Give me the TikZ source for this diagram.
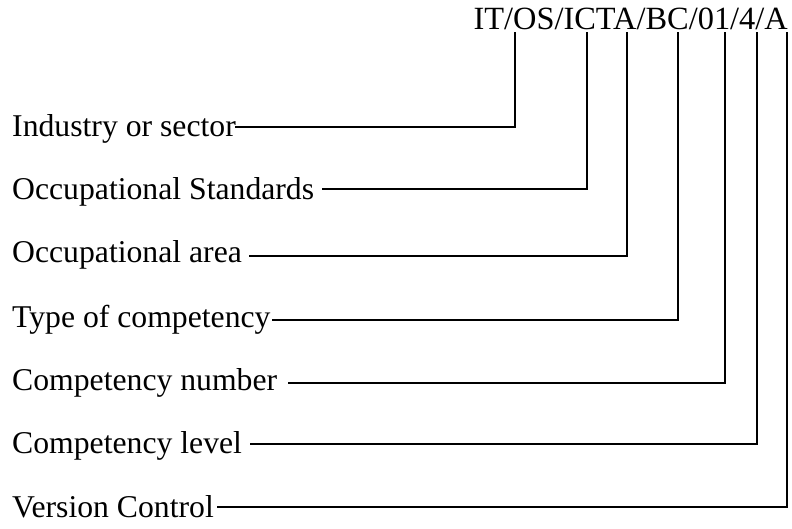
\documentclass[tikz,border=0pt]{standalone}
\usepackage{fontspec}
\setmainfont{Liberation Serif}
\begin{document}
\begin{tikzpicture}[x=1pt,y=-1pt,
  lab/.style={anchor=base west,inner sep=0pt,font=\fontsize{31.7pt}{38pt}\selectfont},
  conn/.style={draw=black,line width=1.7pt}]
\useasboundingbox (0,0) rectangle (792,529);
\node[lab,anchor=base east,font=\fontsize{32.4pt}{38pt}\selectfont] (code) at (788,30) {IT/OS/ICTA/BC/01/4/A};
\node[lab] (l1) at (12,137) {Industry or sector};
\node[lab] (l2) at (12,200) {Occupational Standards};
\node[lab] (l3) at (12,263) {Occupational area};
\node[lab] (l4) at (12,327) {Type of competency};
\node[lab] (l5) at (12,390) {Competency number};
\node[lab] (l6) at (12,453) {Competency level};
\node[lab] (l7) at (12,517) {Version Control};
\coordinate (s1) at (235,127);
\coordinate (s2) at (322,189);
\coordinate (s3) at (249,256);
\coordinate (s4) at (272,320);
\coordinate (s5) at (288,383);
\coordinate (s6) at (250,444);
\coordinate (s7) at (217,507);
\coordinate (t1) at (515,32);
\coordinate (t2) at (587,32);
\coordinate (t3) at (627,32);
\coordinate (t4) at (678,32);
\coordinate (t5) at (725,32);
\coordinate (t6) at (757,32);
\coordinate (t7) at (787,32);
\foreach \i in {1,...,7}{\draw[conn] (s\i) -| (t\i);}
\end{tikzpicture}
\end{document}
